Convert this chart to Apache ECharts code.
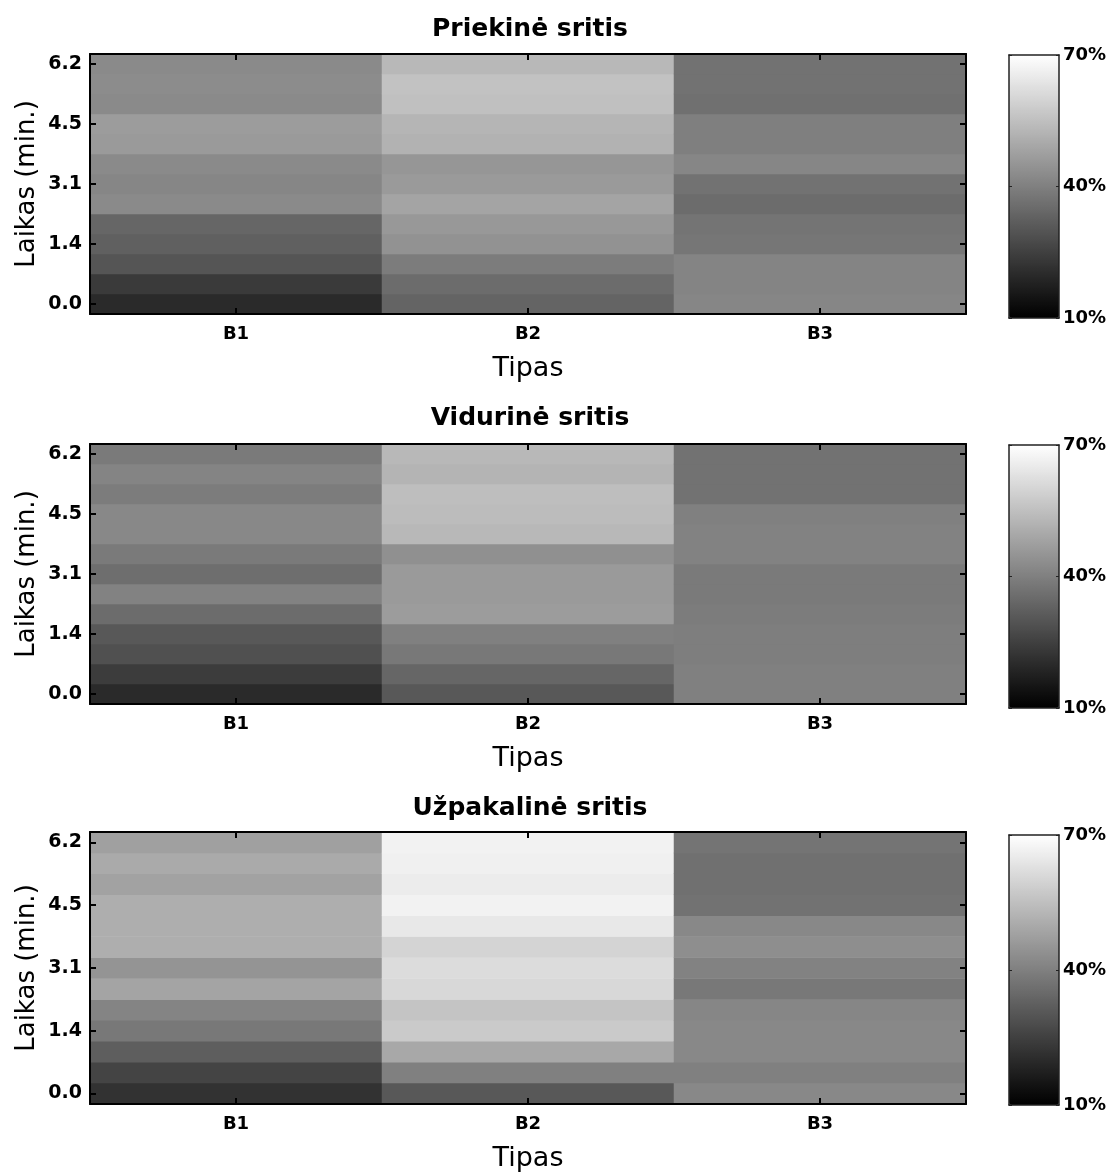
<!DOCTYPE html>
<html>
<head>
<meta charset="utf-8">
<style>
  html, body { margin: 0; padding: 0; background: #ffffff; }
  #chart { width: 1114px; height: 1173px; }
</style>
<script src="https://cdn.jsdelivr.net/npm/echarts@6/dist/echarts.min.js"></script>
</head>
<body>
<div id="chart"></div>
<script>
// categories / labels
const types = ['B1', 'B2', 'B3']
// 13 time rows, bottom (0.0) -> top (6.2); only every 3rd row carries a label
const timeLabels = ['0.0', '', '', '1.4', '', '', '3.1', '', '', '4.5', '', '', '6.2']
const cbarLabels = ['10%', '40%', '70%']
const titles = ['Priekinė sritis', 'Vidurinė sritis', 'Užpakalinė sritis']

// values in %, row 0.0 -> 6.2
const frontB1 = [19.9, 23.6, 30.0, 32.6, 34.0, 42.5, 41.5, 42.5, 46.2, 46.7, 42.5, 42.9, 42.5]
const frontB2 = [33.5, 35.4, 39.2, 44.4, 45.8, 48.6, 46.2, 45.3, 51.9, 52.6, 55.2, 55.6, 53.3]
const frontB3 = [41.5, 41.0, 41.0, 37.8, 37.3, 35.4, 36.8, 41.5, 39.8, 39.8, 36.4, 36.8, 36.8]

const midB1 = [19.9, 24.1, 28.8, 30.7, 35.4, 40.6, 35.9, 38.7, 42.0, 42.0, 39.2, 41.1, 38.7]
const midB2 = [30.7, 34.0, 38.2, 40.1, 46.7, 46.2, 46.2, 43.9, 53.3, 54.2, 54.7, 52.4, 53.3]
const midB3 = [40.0, 40.0, 39.6, 39.6, 39.2, 38.7, 38.7, 40.6, 40.6, 40.0, 36.8, 36.8, 36.8]

const rearB1 = [21.8, 26.0, 32.1, 38.2, 41.0, 48.6, 44.8, 50.9, 50.9, 50.9, 48.1, 50.0, 47.6]
const rearB2 = [30.7, 40.1, 49.5, 57.5, 56.1, 60.8, 61.8, 59.9, 64.6, 66.9, 65.5, 66.5, 66.9]
const rearB3 = [42.0, 40.0, 42.0, 42.0, 41.5, 38.2, 40.6, 43.4, 42.0, 36.8, 36.4, 36.4, 37.3]

const plots = [
    [frontB1, frontB2, frontB3],
    [midB1, midB2, midB3],
    [rearB1, rearB2, rearB3],
]

// layout (row heights kept to whole pixels so the cells do not show seams)
const FONT = 'DejaVu Sans'
const plotLeft = 90
const plotWidth = 876
const plotTops = [54, 444, 832]
const plotHeights = [260, 260, 273]
const titleTops = [12, 401, 791]
const cbarLeft = 1009
const cbarWidth = 50
const cbarTops = [55, 445, 835]
const cbarHeights = [263, 263, 270]

const frameLine = { show: true, onZero: false, lineStyle: { color: '#000', width: 2 } }
const frameTick = { show: true, inside: true, alignWithLabel: true, length: 6, lineStyle: { color: '#000', width: 2 } }
const noSplit = { show: false }

let option = {
    animation: false,
    backgroundColor: '#ffffff',
    title: [],
    grid: [],
    xAxis: [],
    yAxis: [],
    visualMap: [],
    series: [],
}

plots.forEach((cols, i) => {
    const top = plotTops[i]
    const h = plotHeights[i]

    option.title.push({
        text: titles[i],
        left: plotLeft + plotWidth / 2 - 3,
        top: titleTops[i],
        textAlign: 'center',
        textStyle: { fontFamily: FONT, fontSize: 25, fontWeight: 'bold', color: '#000' },
    })

    // heatmap grid
    const g = option.grid.length
    option.grid.push({ left: plotLeft, top: top, width: plotWidth, height: h })
    const xi = option.xAxis.length
    option.xAxis.push({
        gridIndex: g, type: 'category', data: types, position: 'bottom', z: 10,
        axisLine: frameLine,
        axisTick: frameTick,
        axisLabel: { fontFamily: FONT, fontSize: 18, fontWeight: 'bold', color: '#000', margin: 11 },
        splitLine: noSplit,
        name: 'Tipas', nameLocation: 'middle', nameGap: 41, nameMoveOverlap: false,
        nameTextStyle: { fontFamily: FONT, fontSize: 27, color: '#000' },
    })
    option.xAxis.push({
        gridIndex: g, type: 'category', data: types, position: 'top', z: 10,
        axisLine: frameLine,
        axisTick: frameTick,
        axisLabel: { show: false },
        splitLine: noSplit,
    })
    const yi = option.yAxis.length
    option.yAxis.push({
        gridIndex: g, type: 'category', data: timeLabels, position: 'left', z: 10,
        axisLine: frameLine,
        axisTick: { ...frameTick, interval: 2 },
        axisLabel: { interval: 0, fontFamily: FONT, fontSize: 19, fontWeight: 'bold', color: '#000', margin: 8 },
        splitLine: noSplit,
        name: 'Laikas (min.)', nameLocation: 'middle', nameGap: 50, nameMoveOverlap: false,
        nameTextStyle: { fontFamily: FONT, fontSize: 26, color: '#000' },
    })
    option.yAxis.push({
        gridIndex: g, type: 'category', data: timeLabels, position: 'right', z: 10,
        axisLine: frameLine,
        axisTick: { ...frameTick, interval: 2 },
        axisLabel: { show: false },
        splitLine: noSplit,
    })

    // colour bar frame + labels
    const ct = cbarTops[i]
    const ch = cbarHeights[i]
    const cg = option.grid.length
    option.grid.push({ left: cbarLeft, top: ct, width: cbarWidth, height: ch })
    const cbLine = { show: true, onZero: false, lineStyle: { color: '#222', width: 1.5 } }
    option.xAxis.push({ gridIndex: cg, type: 'value', position: 'bottom', z: 10, axisLine: cbLine, axisTick: { show: false }, axisLabel: { show: false }, splitLine: noSplit })
    option.xAxis.push({ gridIndex: cg, type: 'value', position: 'top', z: 10, axisLine: cbLine, axisTick: { show: false }, axisLabel: { show: false }, splitLine: noSplit })
    option.yAxis.push({
        gridIndex: cg, type: 'category', data: cbarLabels, boundaryGap: false, position: 'left', z: 10,
        axisLine: cbLine, axisTick: { inside: true, length: 3, lineStyle: { color: '#222' } },
        axisLabel: { show: false }, splitLine: noSplit,
    })
    option.yAxis.push({
        gridIndex: cg, type: 'category', data: cbarLabels, boundaryGap: false, position: 'right', z: 10,
        axisLine: cbLine, axisTick: { inside: true, length: 3, lineStyle: { color: '#222' } },
        axisLabel: { fontFamily: FONT, fontSize: 18, fontWeight: 'bold', color: '#000', margin: 4 },
        splitLine: noSplit,
    })

    option.visualMap.push({
        type: 'continuous',
        seriesIndex: i,
        min: 10,
        max: 70,
        calculable: false,
        hoverLink: false,
        orient: 'vertical',
        left: cbarLeft,
        top: ct,
        itemWidth: cbarWidth,
        itemHeight: ch,
        padding: 0,
        z: 1,
        inRange: { color: ['#000000', '#ffffff'] },
    })

    const data = []
    cols.forEach((vals, c) => {
        vals.forEach((v, r) => data.push([c, r, v]))
    })
    option.series.push({
        type: 'heatmap',
        xAxisIndex: xi,
        yAxisIndex: yi,
        data: data,
        itemStyle: { borderWidth: 0 },
        emphasis: { disabled: true },
    })
})

const myChart = echarts.init(document.getElementById('chart'))
myChart.setOption(option)
</script>
</body>
</html>
